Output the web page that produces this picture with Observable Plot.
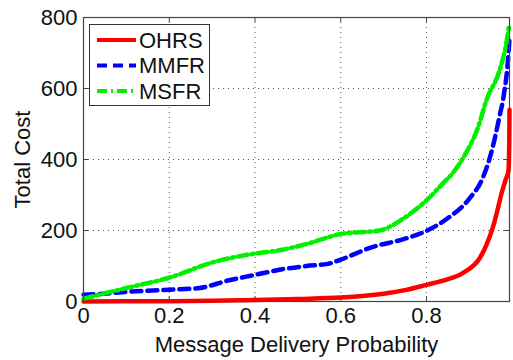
<!DOCTYPE html>
<html>
<head>
<meta charset="utf-8">
<script src="https://cdn.jsdelivr.net/npm/d3@7"></script>
<script src="https://cdn.jsdelivr.net/npm/@observablehq/plot@0.6"></script>
<style>
  html, body { margin: 0; padding: 0; background: #fff; }
  #wrap { position: relative; width: 513px; height: 360px; }
  #legend { position: absolute; left: 89px; top: 24px; width: 121px; height: 82px;
    border: 1px solid #333; background: #fff; box-sizing: border-box; }
</style>
</head>
<body>
<div id="wrap"></div>
<script>
// ---- data ----
const seriesNames = ["OHRS", "MMFR", "MSFR"];
const xOHRS = [0, 0.1, 0.2, 0.3, 0.4, 0.5, 0.6, 0.7, 0.75, 0.8, 0.85, 0.88, 0.9, 0.92, 0.94, 0.955, 0.965, 0.975, 0.985, 0.991, 0.993, 0.9935];
const yOHRS = [0, 1, 1, 2, 4, 7, 11, 22, 32, 47, 63, 77, 92, 115, 160, 210, 255, 305, 345, 368, 450, 540];
const xMMFR = [0, 0.05, 0.1, 0.2, 0.27, 0.34, 0.4, 0.46, 0.52, 0.57, 0.6, 0.67, 0.75, 0.8, 0.85, 0.9, 0.93, 0.95, 0.97, 0.98, 0.99, 0.9935];
const yMMFR = [19, 22, 27, 33, 38, 60, 75, 90, 100, 106, 118, 152, 177, 199, 235, 290, 345, 415, 520, 580, 680, 740];
const xMSFR = [0, 0.1, 0.2, 0.3, 0.4, 0.46, 0.52, 0.6, 0.69, 0.75, 0.8, 0.84, 0.86, 0.89, 0.92, 0.94, 0.97, 0.985, 0.993];
const yMSFR = [8, 38, 67, 110, 135, 145, 162, 190, 200, 237, 285, 335, 360, 414, 490, 568, 650, 720, 780];
const xTicks = [0, 0.2, 0.4, 0.6, 0.8];
const yTicks = [0, 200, 400, 600, 800];

const toRows = (xs, ys) => xs.map((x, i) => ({x, y: ys[i]}));
const dOHRS = toRows(xOHRS, yOHRS);
const dMMFR = toRows(xMMFR, yMMFR);
const dMSFR = toRows(xMSFR, yMSFR);

const styles = {
  OHRS: {stroke: "#ff0000", dash: null},
  MMFR: {stroke: "#0000ff", dash: "10,6"},
  MSFR: {stroke: "#00f000", dash: "10,4,2,4"}
};

const font = "'Liberation Sans', Arial, sans-serif";
const fs = 22;
const plot = Plot.plot({
  width: 513,
  height: 360,
  marginLeft: 83,
  marginRight: 4,
  marginTop: 17,
  marginBottom: 59,
  style: {fontFamily: font, fontSize: fs + "px", color: "#111", background: "#fff"},
  x: {domain: [0, 0.9935]},
  y: {domain: [0, 800]},
  marks: [
    Plot.gridX(xTicks.slice(1), {stroke: "#555", strokeOpacity: 1, strokeDasharray: "1,4", strokeWidth: 1}),
    Plot.gridY(yTicks.slice(1, -1), {stroke: "#555", strokeOpacity: 1, strokeDasharray: "1,4", strokeWidth: 1}),
    Plot.tickX(xTicks, {x: d => d, insetTop: 279, stroke: "#444"}),
    Plot.tickX(xTicks, {x: d => d, insetBottom: 279, stroke: "#444"}),
    Plot.tickY(yTicks, {y: d => d, insetRight: 421, stroke: "#444"}),
    Plot.tickY(yTicks, {y: d => d, insetLeft: 421, stroke: "#444"}),
    Plot.line(dOHRS, {x: "x", y: "y", stroke: styles.OHRS.stroke, strokeWidth: 4.5, curve: "monotone-x"}),
    Plot.line(dMMFR, {x: "x", y: "y", stroke: styles.MMFR.stroke, strokeWidth: 4.5, strokeDasharray: styles.MMFR.dash, curve: "monotone-x"}),
    Plot.line(dMSFR, {x: "x", y: "y", stroke: styles.MSFR.stroke, strokeWidth: 4.5, strokeDasharray: styles.MSFR.dash, curve: "monotone-x"}),
    Plot.frame({stroke: "#444", strokeWidth: 1.2}),
    Plot.axisX(xTicks, {tickSize: 0, tickPadding: 6, tickFormat: d => d === 0 ? "0" : String(d),
      label: "Message Delivery Probability", labelAnchor: "center", labelArrow: "none", labelOffset: 50, fontSize: fs}),
    Plot.axisY(yTicks, {tickSize: 0, tickPadding: 6, tickFormat: d => String(d),
      label: "Total Cost", labelAnchor: "center", labelArrow: "none", labelOffset: 69, fontSize: fs})
  ]
});

const wrap = document.getElementById("wrap");
wrap.appendChild(plot);

// legend
const leg = document.createElement("div");
leg.id = "legend";
const ns = "http://www.w3.org/2000/svg";
const lsvg = document.createElementNS(ns, "svg");
lsvg.setAttribute("width", 119);
lsvg.setAttribute("height", 80);
seriesNames.forEach((name, i) => {
  const cy = 15 + i * 25.5;
  const ln = document.createElementNS(ns, "line");
  ln.setAttribute("x1", 7); ln.setAttribute("x2", 46);
  ln.setAttribute("y1", cy); ln.setAttribute("y2", cy);
  ln.setAttribute("stroke", styles[name].stroke);
  ln.setAttribute("stroke-width", 4);
  if (styles[name].dash) ln.setAttribute("stroke-dasharray", styles[name].dash);
  lsvg.appendChild(ln);
  const t = document.createElementNS(ns, "text");
  t.setAttribute("x", 49); t.setAttribute("y", cy);
  t.setAttribute("dy", "0.36em");
  t.setAttribute("font-family", font);
  t.setAttribute("font-size", fs);
  t.setAttribute("fill", "#111");
  t.textContent = name;
  lsvg.appendChild(t);
});
leg.appendChild(lsvg);
wrap.appendChild(leg);
</script>
</body>
</html>
